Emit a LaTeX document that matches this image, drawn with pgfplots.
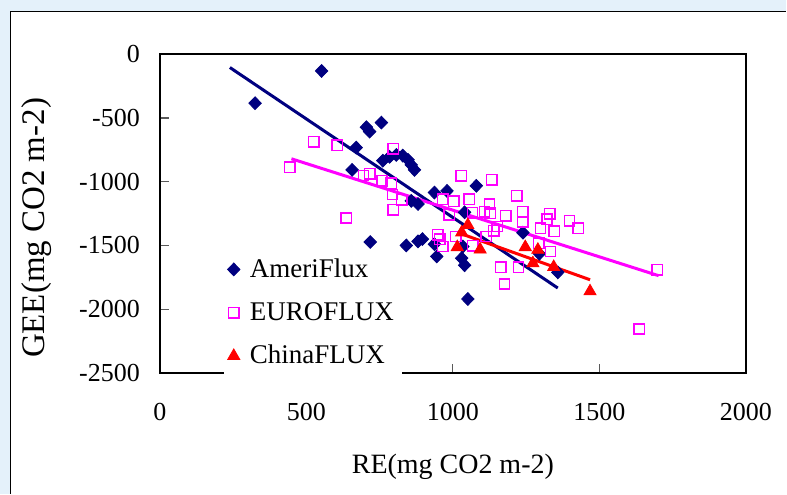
\documentclass[border=0pt]{standalone}
\usepackage{fontspec}
\setmainfont{Liberation Serif}
\usepackage{pgfplots}
\pgfplotsset{compat=1.18}
\definecolor{ameri}{RGB}{0,0,128}
\definecolor{euro}{RGB}{255,0,255}
\definecolor{china}{RGB}{255,0,0}
\definecolor{slide}{RGB}{228,241,250}

\begin{document}
\begin{tikzpicture}
% slide background and chart frame
\fill[slide] (0,0) rectangle (393.5pt,247pt);
\fill[white] (5.35pt,0) rectangle (393.5pt,241.15pt);
\draw[line width=0.8pt] (5.35pt,0) -- (5.35pt,241.15pt) -- (393.5pt,241.15pt);
\useasboundingbox (0,0) rectangle (393.5pt,247pt);
\begin{axis}[
    at={(80pt,60.35pt)}, anchor=south west,
    scale only axis, width=293.35pt, height=159.5pt,
    xmin=0, xmax=2000, ymin=-2500, ymax=0,
    xtick={0,500,...,2000}, ytick={-2500,-2000,...,0},
    tick align=inside, tick pos=left,
    major tick length=4.5pt,
    tick style={black!65, line width=0.6pt},
    axis line style={line width=0.8pt},
    /pgf/number format/assume math mode=true,
    /pgf/number format/1000 sep={},
    tick label style={font=\fontsize{13}{15}\selectfont},
    yticklabel style={xshift=-6.5pt},
    xticklabel style={yshift=-11.5pt},
    xlabel={RE(mg CO2 m-2)},
    ylabel={GEE(mg CO2 m-2)},
    xlabel style={font=\fontsize{14}{16}\selectfont, at={(axis description cs:0.5,-0.294)}, anchor=center},
    ylabel style={font=\fontsize{16.5}{18}\selectfont, at={(axis description cs:-0.211,0.455)}, anchor=center},
    legend style={at={(axis cs:216,-1537)}, anchor=north west, draw=none, fill=white,
        font=\fontsize{13.5}{15}\selectfont, row sep=7pt, inner sep=2pt,
        /tikz/every odd column/.append style={column sep=3pt}},
    legend cell align=left,
    legend image code/.code={\draw[mark repeat=2,mark phase=2,#1] plot coordinates {(0cm,0cm) (0.36cm,0cm) (0.72cm,0cm)};},
]
\addplot[only marks, mark=diamond*, color=ameri, mark size=3.2pt, mark options={xscale=1.3}] coordinates {
  (325,-384) (552,-131) (705,-572) (716,-607) (756,-536) (670,-732) (656,-907)
  (761,-835) (784,-805) (807,-790) (829,-795) (847,-828) (858,-868) (869,-907)
  (858,-1150) (881,-1175) (937,-1085) (980,-1072) (1080,-1032) (1040,-1240) (1239,-1400)
  (718,-1473) (841,-1500) (881,-1468) (896,-1450) (937,-1490) (945,-1586) (1034,-1508)
  (1030,-1600) (1040,-1655) (1051,-1920) (1295,-1565) (1358,-1711)
};
\addlegendentry{AmeriFlux}
\addplot[only marks, mark=square, color=euro, mark size=2.6pt, line width=0.75pt] coordinates {
  (443,-886) (525,-685) (606,-713) (636,-1285) (695,-951) (716,-938) (758,-993)
  (789,-1013) (796,-742) (794,-1100) (826,-1140) (796,-1220)
  (966,-1137) (1003,-1152) (1028,-954) (1056,-1137) (1133,-985) (1125,-1176) (1218,-1110)
  (1067,-1243) (1108,-1236) (1128,-1246) (1181,-1266) (1238,-1236) (1238,-1314)
  (1330,-1250) (1321,-1293) (1398,-1306) (1428,-1364) (1299,-1364) (1346,-1390)
  (1152,-1351) (1140,-1386) (1114,-1430) (1068,-1502) (987,-1260) (949,-1416)
  (955,-1450) (966,-1508) (1010,-1430) (1293,-1483) (1333,-1547) (1163,-1670)
  (1224,-1670) (1176,-1802) (1697,-1690) (1636,-2155)
};
\addlegendentry{EUROFLUX}
\addplot[only marks, mark=triangle*, color=china, mark size=3.5pt] coordinates {
  (1051,-1340) (1030,-1398) (1015,-1513) (1093,-1532) (1247,-1513)
  (1290,-1534) (1273,-1640) (1344,-1669) (1468,-1860)
};
\addlegendentry{ChinaFLUX}
% linear trend lines
\addplot[forget plot, ameri, line width=1.5pt] coordinates {(239,-104) (1358,-1834)};
\addplot[forget plot, euro, line width=1.5pt] coordinates {(449,-820) (1702,-1737)};
\addplot[forget plot, china, line width=1.5pt] coordinates {(1030,-1410) (1468,-1769)};
\end{axis}
\end{tikzpicture}
\end{document}
